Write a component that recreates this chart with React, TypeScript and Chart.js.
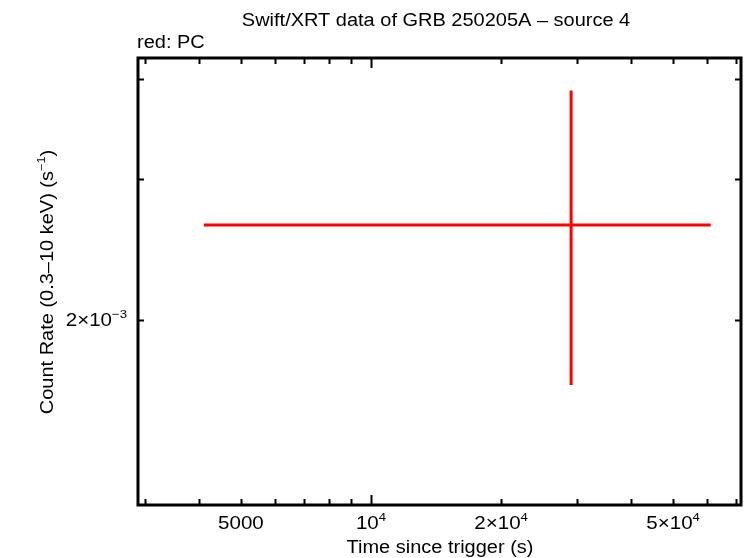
import React, { useEffect, useRef } from "react";
import { Chart, registerables } from "chart.js";
Chart.register(...registerables);

// ---- data ----
const times = [29040];
const timeLo = [4105];
const timeHi = [61100];
const rates = [2.63e-3];
const rateLo = [1.66e-3];
const rateHi = [3.87e-3];

const xRange = [2890, 71800];
const yRange = [1.176e-3, 4.25e-3];
const xTicks = [3000, 4000, 5000, 6000, 7000, 8000, 9000, 10000, 20000, 30000, 40000, 50000, 60000, 70000];
const xMajorTicks = [10000];
const xTickLabels = [
  { v: 5000, base: "5000", sup: "" },
  { v: 10000, base: "10", sup: "4" },
  { v: 20000, base: "2\u00d710", sup: "4" },
  { v: 50000, base: "5\u00d710", sup: "4" },
];
const yTicks = [2e-3, 3e-3, 4e-3];
const yTickLabels = [{ v: 2e-3, base: "2\u00d710", sup: "\u22123" }];

const titleText = "Swift/XRT data of GRB 250205A \u2013 source 4";
const subtitleText = "red: PC";
const xTitle = "Time since trigger (s)";

const FONT = '"Liberation Sans", Arial, Helvetica, sans-serif';
const STRETCH = 1.11;

type Seg = { t: string; sup?: boolean };

function drawRich(ctx: CanvasRenderingContext2D, segs: Seg[], x: number, y: number, size: number, align: "left" | "center" | "right") {
  const supSize = size * 0.64;
  let total = 0;
  const widths = segs.map((s) => {
    ctx.font = `${s.sup ? supSize : size}px ${FONT}`;
    const w = ctx.measureText(s.t).width * STRETCH;
    total += w;
    return w;
  });
  let cx = align === "center" ? x - total / 2 : align === "right" ? x - total : x;
  ctx.textAlign = "left";
  ctx.textBaseline = "alphabetic";
  segs.forEach((s, i) => {
    ctx.font = `${s.sup ? supSize : size}px ${FONT}`;
    ctx.save();
    ctx.translate(cx, s.sup ? y - size * 0.42 : y);
    ctx.scale(STRETCH, 1);
    ctx.fillText(s.t, 0, 0);
    ctx.restore();
    cx += widths[i];
  });
}

const framePlugin = {
  id: "frame",
  afterDraw(chart: any) {
    const ctx: CanvasRenderingContext2D = chart.ctx;
    const { left, right, top, bottom } = chart.chartArea;
    const xs = chart.scales.x;
    const ys = chart.scales.y;
    ctx.save();
    ctx.strokeStyle = "#000";
    ctx.fillStyle = "#000";
    // ticks
    ctx.lineWidth = 2;
    xTicks.forEach((v) => {
      const px = Math.round(xs.getPixelForValue(v)) + 0.5;
      const len = xMajorTicks.includes(v) ? 10 : 6;
      ctx.beginPath();
      ctx.moveTo(px, bottom);
      ctx.lineTo(px, bottom - len);
      ctx.moveTo(px, top);
      ctx.lineTo(px, top + len);
      ctx.stroke();
    });
    yTicks.forEach((v) => {
      const py = Math.round(ys.getPixelForValue(v)) + 0.5;
      const len = 6;
      ctx.beginPath();
      ctx.moveTo(left, py);
      ctx.lineTo(left + len, py);
      ctx.moveTo(right, py);
      ctx.lineTo(right - len, py);
      ctx.stroke();
    });
    // frame
    ctx.lineWidth = 3;
    ctx.strokeRect(left, top, right - left, bottom - top);

    // tick labels
    xTickLabels.forEach((l) => {
      const px = xs.getPixelForValue(l.v);
      const segs: Seg[] = [{ t: l.base }];
      if (l.sup) segs.push({ t: l.sup, sup: true });
      drawRich(ctx, segs, px, bottom + 24, 18.5, "center");
    });
    yTickLabels.forEach((l) => {
      const py = ys.getPixelForValue(l.v);
      drawRich(ctx, [{ t: l.base }, { t: l.sup, sup: true }], left - 11, py + 6, 18.5, "right");
    });

    // titles
    drawRich(ctx, [{ t: titleText }], 436, 26, 18, "center");
    drawRich(ctx, [{ t: subtitleText }], left - 1, 48, 18, "left");
    drawRich(ctx, [{ t: xTitle }], 440, 553, 18, "center");

    ctx.save();
    ctx.translate(53, 282);
    ctx.rotate(-Math.PI / 2);
    drawRich(ctx, [{ t: "Count Rate (0.3\u201310 keV) (s" }, { t: "\u22121", sup: true }, { t: ")" }], 0, 0, 18, "center");
    ctx.restore();
    ctx.restore();
  },
};

export default function App() {
  const ref = useRef<HTMLCanvasElement>(null);
  useEffect(() => {
    document.body.style.margin = "0";
    const datasets: any[] = [];
    times.forEach((t, i) => {
      datasets.push({
        data: [
          { x: timeLo[i], y: rates[i] },
          { x: timeHi[i], y: rates[i] },
        ],
      });
      datasets.push({
        data: [
          { x: t, y: rateLo[i] },
          { x: t, y: rateHi[i] },
        ],
      });
    });
    datasets.forEach((d) => {
      d.showLine = true;
      d.borderColor = "#ff0000";
      d.backgroundColor = "#ff0000";
      d.borderWidth = 3;
      d.pointRadius = 0;
      d.borderCapStyle = "butt";
    });
    const chart = new Chart(ref.current!, {
      type: "scatter",
      data: { datasets },
      options: {
        animation: false,
        responsive: false,
        events: [],
        layout: { padding: { left: 0, top: 58, right: 5, bottom: 0 } },
        plugins: { legend: { display: false }, tooltip: { enabled: false }, title: { display: false } },
        scales: {
          x: {
            type: "logarithmic",
            min: xRange[0],
            max: xRange[1],
            grid: { display: false },
            border: { display: false },
            ticks: { display: false },
            afterFit: (s: any) => {
              s.height = 53;
            },
          },
          y: {
            type: "logarithmic",
            min: yRange[0],
            max: yRange[1],
            grid: { display: false },
            border: { display: false },
            ticks: { display: false },
            afterFit: (s: any) => {
              s.width = 138;
            },
          },
        },
      },
      plugins: [framePlugin],
    });
    return () => chart.destroy();
  }, []);
  return (
    <div style={{ position: "absolute", left: 0, top: 0, width: 746, height: 558, background: "#fff" }}>
      <canvas ref={ref} width={746} height={558} style={{ width: 746, height: 558 }} />
    </div>
  );
}
